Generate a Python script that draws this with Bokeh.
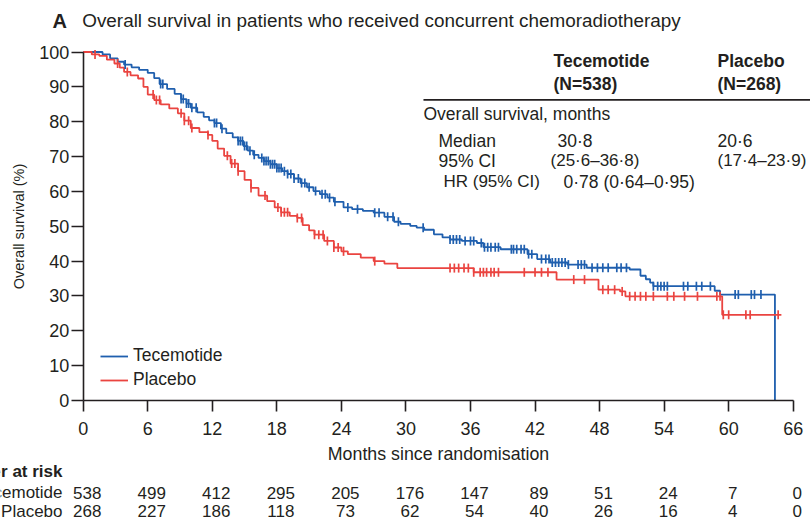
import numpy as np
from bokeh.plotting import figure
from bokeh.models import (ColumnDataSource, FixedTicker, Label, LabelSet,
                          Legend, LegendItem)
from bokeh.core.properties import value
from bokeh.embed import file_html
from bokeh.resources import INLINE

# ---------------- data ----------------
month_ticks = [0, 6, 12, 18, 24, 30, 36, 42, 48, 54, 60, 66]
surv_ticks = [0, 10, 20, 30, 40, 50, 60, 70, 80, 90, 100]

tec_time = [0, 1.8, 2.5, 3.2, 3.8, 4.5, 5.2, 6.0, 6.6, 7.1, 7.8, 8.5, 9.1, 9.6, 10.0,
            10.6, 11.2, 11.7, 12.2, 12.8, 13.3, 13.9, 14.4, 14.9, 15.3, 15.8, 16.3,
            16.8, 17.4, 18.0, 18.5, 19.0, 19.6, 20.2, 20.8, 21.4, 22.0, 22.7, 23.3,
            24.2, 25.0, 26.0, 27.0, 28.0, 28.9, 29.5, 30.4, 31.0, 31.7, 32.6, 33.4,
            34.1, 35.2, 36.6, 37.2, 38.8, 41.3, 42.2, 43.4, 45.0, 46.8, 50.8, 51.8,
            52.3, 52.7, 53.0, 58.7, 59.2, 64.3]
tec_surv = [100, 99.3, 98.2, 97.2, 96.4, 95.6, 94.9, 94.0, 92.5, 90.8, 89.4, 88.0, 86.5,
            85.2, 84.0, 82.7, 81.4, 80.4, 79.6, 78.0, 76.7, 75.5, 74.5, 73.0, 71.7,
            70.5, 69.6, 68.7, 67.8, 66.7, 65.8, 65.0, 63.7, 62.4, 61.2, 60.1, 59.2,
            58.2, 57.0, 55.4, 54.9, 54.4, 53.9, 52.7, 51.3, 50.7, 50.1, 49.6, 49.0,
            47.7, 46.8, 46.2, 45.8, 45.2, 44.0, 43.4, 42.0, 40.6, 39.6, 39.0, 38.1,
            37.6, 35.8, 34.8, 33.8, 32.8, 31.5, 30.4, 0]

pla_time = [0, 0.8, 1.5, 2.2, 2.9, 3.4, 3.8, 4.4, 5.1, 5.6, 6.0, 6.6, 7.2, 8.0, 8.8,
            9.4, 10.0, 10.8, 11.6, 12.0, 12.5, 13.1, 13.7, 14.4, 15.0, 15.6, 16.3,
            17.1, 17.8, 18.4, 19.2, 19.9, 20.4, 21.0, 21.5, 22.4, 23.3, 24.0, 24.6,
            25.8, 27.0, 28.0, 29.2, 36.3, 44.0, 47.9, 49.9, 50.4, 59.4, 64.9]
pla_surv = [100, 99.3, 98.9, 97.8, 96.7, 95.5, 94.3, 93.3, 92.4, 90.0, 87.8, 86.2, 85.0,
            83.8, 82.4, 80.3, 78.2, 77.0, 76.2, 74.5, 72.3, 70.2, 68.0, 65.8, 63.3,
            61.0, 58.8, 57.2, 55.4, 54.0, 53.0, 52.4, 50.3, 48.8, 47.6, 45.8, 43.9,
            42.8, 42.0, 41.0, 40.0, 39.3, 38.0, 36.8, 34.7, 31.8, 31.3, 29.9, 24.6, 24.6]

tec_censor = [3.9, 7.2, 7.4, 9.1, 9.3, 9.6, 9.8, 10.1, 10.5, 12.2, 12.4, 12.9, 14.4,
              14.6, 14.8, 15.0, 15.2, 15.5, 15.9, 16.6, 16.8, 17.0, 17.2, 17.4, 17.6,
              17.8, 18.0, 18.2, 18.4, 18.7, 19.0, 19.3, 19.6, 20.0, 20.3, 20.6, 21.0,
              21.6, 22.2, 22.5, 22.9, 23.4, 24.6, 25.5, 27.1, 27.5, 28.3, 28.8, 29.3,
              31.6, 34.1, 34.4, 34.7, 35.0, 35.5, 36.0, 36.3, 37.0, 37.3, 37.6, 37.9,
              38.3, 38.6, 39.8, 40.0, 40.3, 40.7, 41.0, 41.4, 41.7, 42.6, 43.0, 43.3,
              43.6, 43.9, 44.2, 44.5, 44.8, 45.1, 46.0, 46.3, 46.6, 47.3, 47.8, 48.3,
              48.8, 49.6, 50.0, 50.5, 53.0, 53.4, 53.7, 54.0, 54.3, 55.8, 56.2, 57.0,
              57.5, 58.3, 60.6, 60.9, 62.1, 62.4, 63.0]
pla_censor = [1.1, 3.2, 4.1, 6.5, 6.8, 7.1, 9.1, 9.4, 9.8, 10.1, 11.6, 13.4, 13.8, 14.1,
              14.4, 15.6, 16.9, 18.1, 18.4, 18.7, 19.0, 19.9, 20.3, 21.5, 21.9, 22.3,
              22.7, 23.3, 23.7, 24.2, 27.1, 34.1, 34.5, 34.9, 35.4, 35.8, 36.3, 36.9,
              37.2, 37.5, 37.9, 38.2, 38.6, 41.0, 42.0, 42.6, 43.2, 45.6, 46.6, 48.3,
              48.8, 49.4, 50.1, 50.8, 51.3, 51.8, 52.3, 53.0, 54.3, 54.9, 55.9, 57.1,
              58.9, 59.2, 59.5, 60.0, 61.6, 62.0, 64.6]

risk_months = [0, 6, 12, 18, 24, 30, 36, 42, 48, 54, 60, 66]
risk_tec = [538, 499, 412, 295, 205, 176, 147, 89, 51, 24, 7, 0]
risk_pla = [268, 227, 186, 118, 73, 62, 54, 40, 26, 16, 4, 0]

BLUE = "#1f5fae"
RED = "#ea4440"
INK = "#231f20"
FONT = "Liberation Sans"


def step_value(times, survs, t):
    idx = np.searchsorted(np.asarray(times), t, side="right") - 1
    return np.asarray(survs)[idx]


# frame covers the whole canvas; axes sit at fixed data locations
p = figure(width=810, height=522, x_range=(-7.687, 67.606), y_range=(-35.0, 114.78),
           output_backend="svg", toolbar_location=None,
           min_border_left=0, min_border_right=0, min_border_top=0,
           min_border_bottom=0)
p.title.visible = False
p.outline_line_color = None
p.xgrid.visible = False
p.ygrid.visible = False
p.background_fill_color = "white"
p.border_fill_color = "white"

for ax in (p.xaxis, p.yaxis):
    ax.fixed_location = 0
    ax.axis_line_color = INK
    ax.axis_line_width = 1.6
    ax.major_tick_line_color = INK
    ax.major_tick_line_width = 1.6
    ax.major_tick_in = 0
    ax.minor_tick_line_color = None
    ax.major_label_text_font = FONT
    ax.major_label_text_font_size = "18px"
    ax.major_label_text_color = INK
    ax.axis_label_text_font = FONT
    ax.axis_label_text_font_style = "normal"
    ax.axis_label_text_color = INK

p.xaxis.bounds = (0, 66)
p.yaxis.bounds = (0, 100)
p.xaxis.ticker = FixedTicker(ticks=month_ticks)
p.yaxis.ticker = FixedTicker(ticks=surv_ticks)
p.xaxis.major_tick_out = 11
p.yaxis.major_tick_out = 12
p.xaxis.major_label_standoff = 10
p.yaxis.major_label_standoff = 2
p.xaxis.axis_label = "Months since randomisation"
p.xaxis.axis_label_text_font_size = "17.8px"
p.xaxis.axis_label_standoff = 6
p.yaxis.axis_label = "Overall survival (%)"
p.yaxis.axis_label_text_font_size = "14.5px"
p.yaxis.axis_label_standoff = 9

# curves
r_tec = p.step(tec_time, tec_surv, mode="after", line_color=BLUE, line_width=1.8)
r_pla = p.step(pla_time, pla_surv, mode="after", line_color=RED, line_width=1.8)

# censor marks
p.scatter(tec_censor, [step_value(tec_time, tec_surv, t) for t in tec_censor],
          marker="dash", angle=np.pi / 2, size=9, line_color=BLUE, line_width=1.7)
p.scatter(pla_censor, [step_value(pla_time, pla_surv, t) for t in pla_censor],
          marker="dash", angle=np.pi / 2, size=9, line_color=RED, line_width=1.7)

# legend (location measured from the frame's bottom-left corner)
legend = Legend(items=[LegendItem(label="Tecemotide", renderers=[r_tec]),
                       LegendItem(label="Placebo", renderers=[r_pla])],
                location=(100, 132), padding=0, margin=0, spacing=3,
                glyph_width=28, glyph_height=20, label_height=20, label_standoff=5,
                background_fill_alpha=0, border_line_alpha=0,
                label_text_font=FONT, label_text_font_size="17.5px",
                label_text_color=INK)
p.add_layout(legend)


def tlabel(x, y, text, bold=False, size="17.5px", align="left"):
    p.add_layout(Label(x=x, y=y, text=text, text_font=FONT,
                       text_font_style="bold" if bold else "normal",
                       text_font_size=size, text_color=INK, text_align=align,
                       text_baseline="middle"))


# title
tlabel(-2.854, 109.04, "A", True, "20px")
tlabel(-0.093, 109.04,
       "Overall survival in patients who received concurrent chemoradiotherapy",
       size="18.9px")

# summary table
tlabel(43.72, 97.56, "Tecemotide", True)
tlabel(43.72, 90.82, "(N=538)", True)
tlabel(58.96, 97.56, "Placebo", True)
tlabel(58.96, 90.82, "(N=268)", True)
tlabel(31.63, 82.07, "Overall survival, months")
tlabel(33.03, 74.6, "Median")
tlabel(44.09, 74.6, "30·8")
tlabel(58.96, 74.6, "20·6")
tlabel(33.03, 68.87, "95% CI")
tlabel(43.44, 68.87, "(25·6–36·8)", size="17px")
tlabel(58.96, 68.87, "(17·4–23·9)", size="17px")
tlabel(33.49, 62.84, "HR (95% CI)", size="17px")
tlabel(44.65, 62.84, "0·78 (0·64–0·95)")
p.segment(x0=[31.63], y0=[86.28], x1=[67.6], y1=[86.28], line_color=INK,
          line_width=1.8)

# number at risk
ROW0, ROW1, ROW2 = -20.4, -26.4, -31.8
tlabel(-1.924, ROW0, "Number at risk", True, "17px", align="right")
tlabel(-1.924, ROW1, "Tecemotide", size="17px", align="right")
tlabel(-1.924, ROW2, "Placebo", size="17px", align="right")
src_tec = ColumnDataSource(dict(x=risk_months, y=[ROW1] * len(risk_months),
                                t=[str(v) for v in risk_tec]))
src_pla = ColumnDataSource(dict(x=risk_months, y=[ROW2] * len(risk_months),
                                t=[str(v) for v in risk_pla]))
for src in (src_tec, src_pla):
    p.add_layout(LabelSet(x="x", y="y", text="t", source=src, x_offset=4,
                          text_font=value(FONT), text_font_size=value("17px"),
                          text_color=INK, text_align="center",
                          text_baseline="middle"))

open("out.html", "w").write(file_html(p, INLINE))
